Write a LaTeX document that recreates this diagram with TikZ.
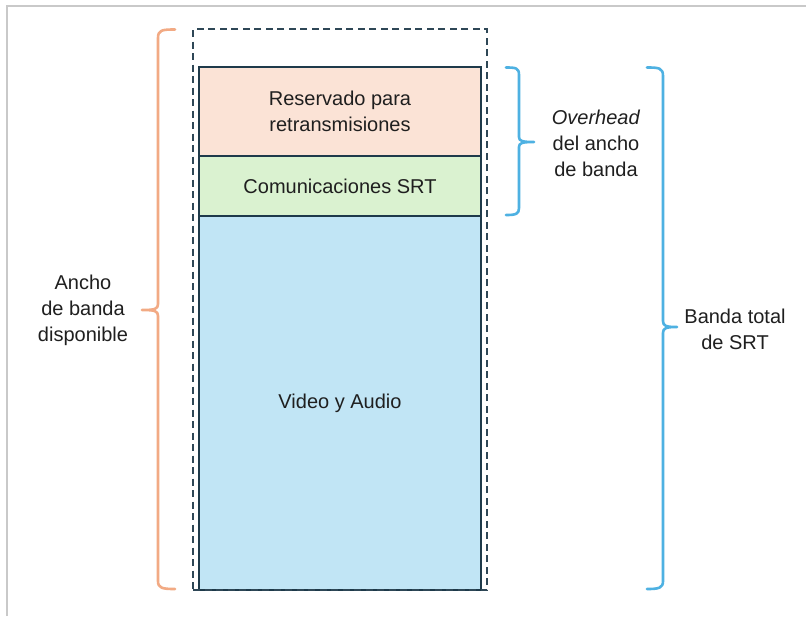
\documentclass[tikz,border=0pt]{standalone}
\usepackage{fontspec}
\setmainfont{Liberation Sans}
\definecolor{frame}{HTML}{C9C9C9}
\definecolor{edge}{HTML}{1E3A4A}
\definecolor{dashc}{HTML}{2E4756}
\definecolor{pinkf}{HTML}{FBE3D6}
\definecolor{greenf}{HTML}{DAF2D0}
\definecolor{bluef}{HTML}{C1E5F5}
\definecolor{orangeb}{HTML}{F2AA84}
\definecolor{blueb}{HTML}{4EB1E2}
\tikzset{
  band/.style={draw=edge, line width=1.6pt, inner sep=0pt, outer sep=0pt, anchor=north west, minimum width=282pt, align=center, font=\fontsize{20}{26}\selectfont, text=black!88},
  lbl/.style={align=center, inner sep=0pt, font=\fontsize{20}{26}\selectfont, text=black!88},
  obrace/.style={draw=orangeb, line width=2.6pt, line join=round, line cap=round},
  bbrace/.style={draw=blueb, line width=2.6pt, line join=round, line cap=round},
}
\begin{document}
\begin{tikzpicture}[x=1pt, y=-1pt]
\useasboundingbox (0,0) rectangle (806,616);
\fill[white] (0,0) rectangle (806,616);
\draw[frame, line width=2pt] (6.5,616) -- (6.5,5.5) -- (806,5.5);
% bands
\node[band, fill=pinkf, minimum height=89pt] (res) at (199,67) {Reservado para\\retransmisiones};
\node[band, fill=greenf, minimum height=60pt] (com) at (199,156) {Comunicaciones SRT};
\node[band, fill=bluef, minimum height=374pt] (vid) at (199,216) {Video y Audio};
% dashed envelope
\node[draw=dashc, dash pattern=on 7pt off 4.5pt, line width=1.8pt, inner sep=0pt, outer sep=0pt, anchor=north west, minimum width=294pt, minimum height=561pt] (env) at (193,29) {};
% orange brace
\draw[obrace] (175,29.5) .. controls (162,29.5) and (158,30) .. (158,38) -- (158,304)
  .. controls (158,309) and (155,310) .. (142,310)
  .. controls (155,310) and (158,311) .. (158,316) -- (158,581)
  .. controls (158,588) and (162,589) .. (175,589);
% small blue brace
\draw[bbrace] (506,67.5) .. controls (516,67.5) and (519,68) .. (519,75) -- (519,137)
  .. controls (519,141) and (522,142) .. (534,142)
  .. controls (522,142) and (519,143) .. (519,147) -- (519,208)
  .. controls (519,214) and (516,215) .. (506,215);
% big blue brace
\draw[bbrace] (647,67.5) .. controls (659,67.5) and (663,68) .. (663,76) -- (663,321)
  .. controls (663,326) and (666,327) .. (677,327)
  .. controls (666,327) and (663,328) .. (663,333) -- (663,581)
  .. controls (663,588) and (659,589) .. (647,589);
% labels
\node[lbl] (avail) at (83,310) {Ancho\\de banda\\disponible};
\node[lbl] (over) at (596,143) {\textit{Overhead}\\del ancho\\de banda};
\node[lbl] (total) at (735,329) {Banda total\\de SRT};
\end{tikzpicture}
\end{document}
